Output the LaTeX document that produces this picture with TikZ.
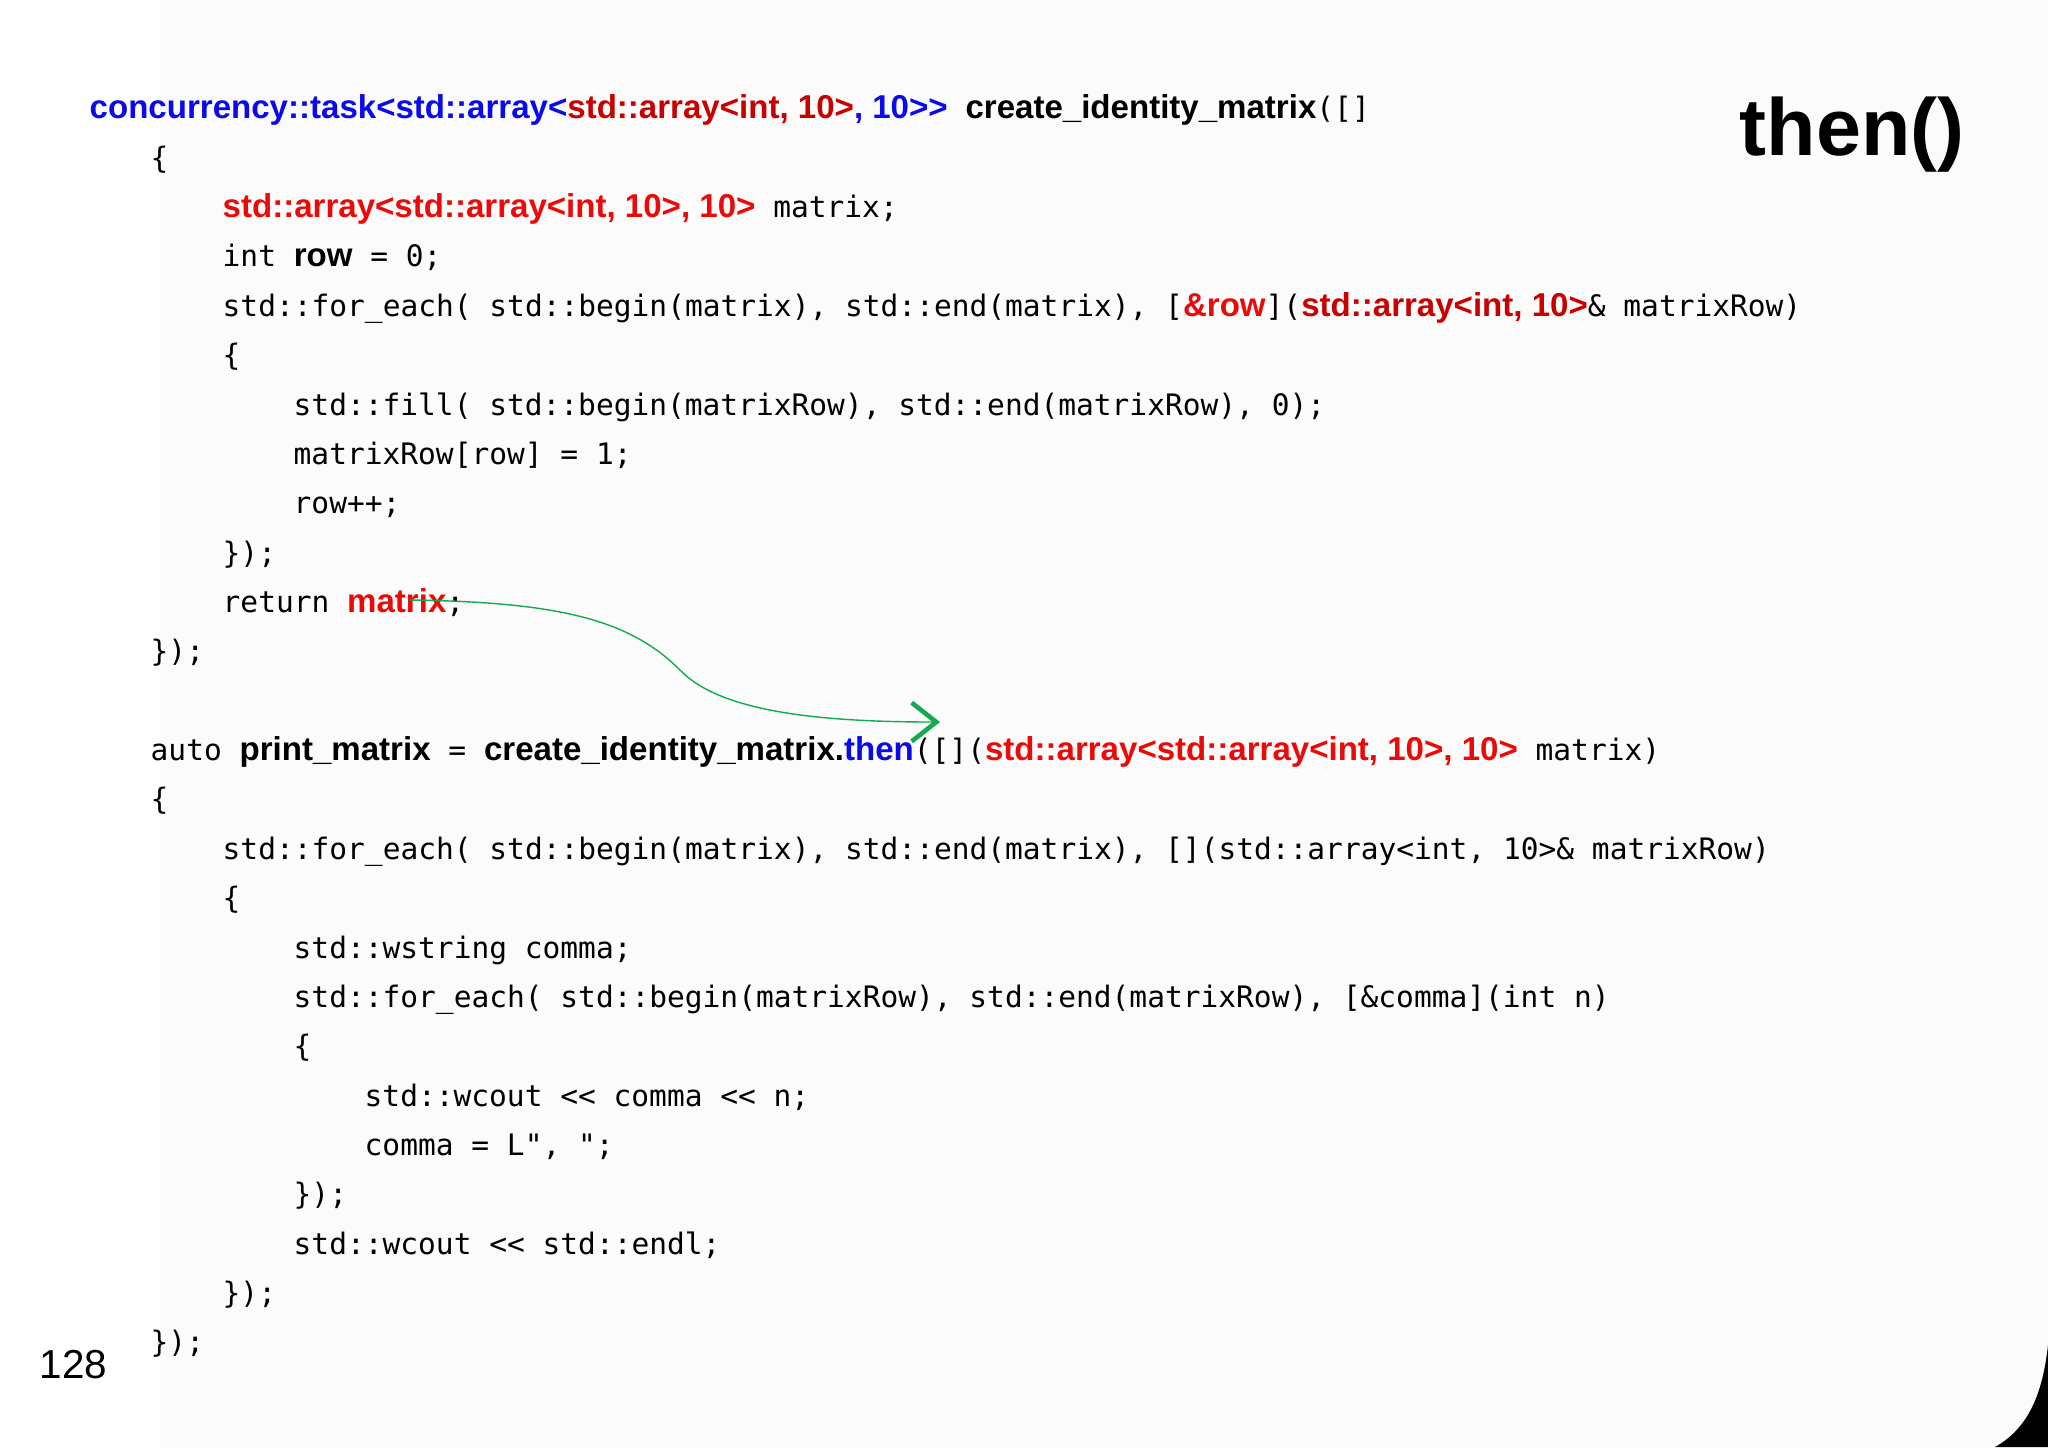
\documentclass[tikz,border=0pt]{standalone}
\usepackage{fontspec}
\setmainfont{Liberation Sans}
\setmonofont{DejaVu Sans Mono}
\usetikzlibrary{arrows.meta}
\definecolor{cblue}{RGB}{10,10,235}
\definecolor{cred}{RGB}{235,10,10}
\definecolor{cdred}{RGB}{200,0,0}
\definecolor{cgreen}{RGB}{20,170,80}
\newcommand{\B}[1]{{\rmfamily\bfseries\fontsize{9.4}{10}\selectfont #1}}
\newcommand{\Bc}[2]{{\rmfamily\bfseries\fontsize{9.4}{10}\selectfont\color{#1}#2}}
\begin{document}
\begin{tikzpicture}[x=0.01cm,y=-0.01cm,
  code/.style={anchor=base west,inner sep=0pt,font=\ttfamily\fontsize{8.4}{10}\selectfont}]
\useasboundingbox (0,0) rectangle (2048,1447);
\fill[white!97!gray] (0,0) rectangle (2048,1447);
\fill[white] (0,0) rectangle (160,1447);
\fill[black] (2048,1345) .. controls (2042,1400) and (2025,1430) .. (1995,1447) -- (2048,1447) -- cycle;
\node[anchor=base east,inner sep=0pt,font=\fontsize{23}{25}\selectfont\bfseries] (title) at (1965,155) {then()};
\node[anchor=base west,inner sep=0pt,font=\fontsize{11.5}{13}\selectfont] (page) at (39,1378) {128};

\node[code] (l1) at (89,118) {\Bc{cblue}{concurrency::task<std::array<}\Bc{cdred}{std::array<int, 10>}\Bc{cblue}{, 10>{}>} \B{create\_identity\_matrix}([]};
\node[code] (l2) at (150,168) {\{};
\node[code] (l3) at (222,217) {\Bc{cred}{std::array<std::array<int, 10>, 10>} matrix;};
\node[code] (l4) at (222,266) {int \B{row} = 0;};
\node[code] (l5) at (222,316) {std::for\_each( std::begin(matrix), std::end(matrix), [\Bc{cred}{\&row}](\Bc{cdred}{std::array<int, 10>}\& matrixRow)};
\node[code] (l6) at (222,365) {\{};
\node[code] (l7) at (293,415) {std::fill( std::begin(matrixRow), std::end(matrixRow), 0);};
\node[code] (l8) at (293,464) {matrixRow[row] = 1;};
\node[code] (l9) at (293,513) {row++;};
\node[code] (l10) at (222,563) {\});};
\node[code] (l11) at (222,612) {return \Bc{cred}{matrix};};
\node[code] (l12) at (150,661) {\});};

\node[code] (l13) at (150,760) {auto \B{print\_matrix} = \B{create\_identity\_matrix.}\Bc{cblue}{then}([](\Bc{cred}{std::array<std::array<int, 10>, 10>} matrix)};
\node[code] (l14) at (150,809) {\{};
\node[code] (l15) at (222,859) {std::for\_each( std::begin(matrix), std::end(matrix), [](std::array<int, 10>\& matrixRow)};
\node[code] (l16) at (222,908) {\{};
\node[code] (l17) at (293,958) {std::wstring comma;};
\node[code] (l18) at (293,1007) {std::for\_each( std::begin(matrixRow), std::end(matrixRow), [\&comma](int n)};
\node[code] (l19) at (293,1056) {\{};
\node[code] (l20) at (364,1106) {std::wcout << comma << n;};
\node[code] (l21) at (364,1155) {comma = L", ";};
\node[code] (l22) at (293,1204) {\});};
\node[code] (l23) at (293,1254) {std::wcout << std::endl;};
\node[code] (l24) at (222,1303) {\});};
\node[code] (l25) at (150,1352) {\});};

\coordinate (s) at (410,600);
\coordinate (e) at (940,722);
\draw[cgreen,thin,-{Straight Barb[length=7pt,width=11pt,line width=1.3pt]}] (s) .. controls (560,602) and (630,620) .. (680,670) .. controls (720,712) and (820,722) .. (e);
\end{tikzpicture}
\end{document}
